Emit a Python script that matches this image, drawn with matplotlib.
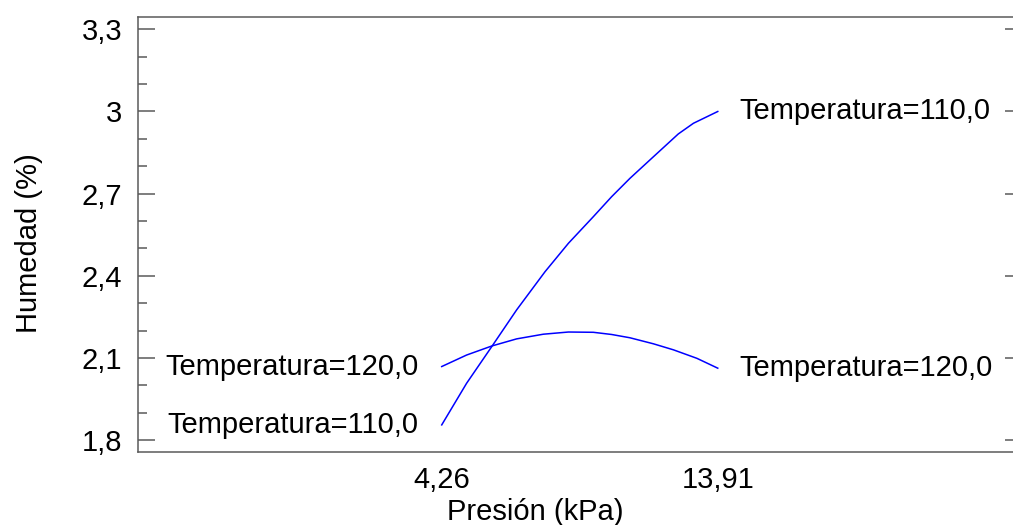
import matplotlib
matplotlib.use("Agg")
import matplotlib.pyplot as plt
from matplotlib.ticker import FixedLocator, MultipleLocator

plt.rcParams['font.family'] = ['Liberation Sans', 'DejaVu Sans']

# Humedad vs presión para dos temperaturas
presion_110 = [4.26, 5.13, 6.01, 6.88, 7.87, 8.69, 9.56, 10.20, 10.84, 11.60, 12.53, 13.06, 13.91]
humedad_110 = [1.856, 2.008, 2.142, 2.276, 2.415, 2.519, 2.616, 2.689, 2.756, 2.829, 2.918, 2.957, 3.000]
presion_120 = [4.26, 5.13, 6.01, 6.88, 7.81, 8.69, 9.56, 10.20, 10.84, 11.66, 12.36, 13.18, 13.91]
humedad_120 = [2.069, 2.111, 2.144, 2.170, 2.187, 2.195, 2.194, 2.186, 2.174, 2.152, 2.130, 2.099, 2.063]

xticks = [4.26, 13.91]
xticklabels = ["4,26", "13,91"]
yticks = [1.8, 2.1, 2.4, 2.7, 3.0, 3.3]
yticklabels = ["1,8", "2,1", "2,4", "2,7", "3", "3,3"]

gris = "#5a5a5a"
fs = 21

fig = plt.figure(figsize=(10.13, 5.25), dpi=100)
ax = fig.add_axes([0.1359, 0.1385, 0.8731, 0.8297])

ax.plot(presion_110, humedad_110, color="#0000ff", lw=1.1)
ax.plot(presion_120, humedad_120, color="#0000ff", lw=1.1)

# etiquetas en los extremos de cada curva
ax.annotate("Temperatura=110,0", (presion_110[0], humedad_110[0]), xytext=(-23, 0),
            textcoords="offset pixels", ha="right", va="center", fontsize=fs)
ax.annotate("Temperatura=120,0", (presion_120[0], humedad_120[0]), xytext=(-23, 0),
            textcoords="offset pixels", ha="right", va="center", fontsize=fs)
ax.annotate("Temperatura=110,0", (presion_110[-1], humedad_110[-1]), xytext=(22, 0),
            textcoords="offset pixels", ha="left", va="center", fontsize=fs)
ax.annotate("Temperatura=120,0", (presion_120[-1], humedad_120[-1]), xytext=(22, 0),
            textcoords="offset pixels", ha="left", va="center", fontsize=fs)

ax.set_xlim(-6.37, 24.55)
ax.set_ylim(1.756, 3.346)

ax.xaxis.set_major_locator(FixedLocator(xticks))
ax.set_xticklabels(xticklabels)
ax.yaxis.set_major_locator(FixedLocator(yticks))
ax.set_yticklabels(yticklabels)
ax.yaxis.set_minor_locator(MultipleLocator(0.1))

ax.tick_params(axis="x", length=0, pad=10, labelsize=fs)
ax.tick_params(axis="y", which="major", direction="in", length=12.2, width=1.1,
               color=gris, right=True, pad=11, labelsize=fs)
ax.tick_params(axis="y", which="minor", direction="in", length=6.5, width=1.1,
               color=gris, right=False)

for s in ax.spines.values():
    s.set_color(gris)
    s.set_linewidth(1.1)

ax.set_xlabel("Presión (kPa)", fontsize=fs)
ax.xaxis.set_label_coords(0.45, -0.104)
ax.set_ylabel("Humedad (%)", fontsize=fs)
ax.yaxis.set_label_coords(-0.107, 0.48)

fig.savefig("out.png", dpi=100)
